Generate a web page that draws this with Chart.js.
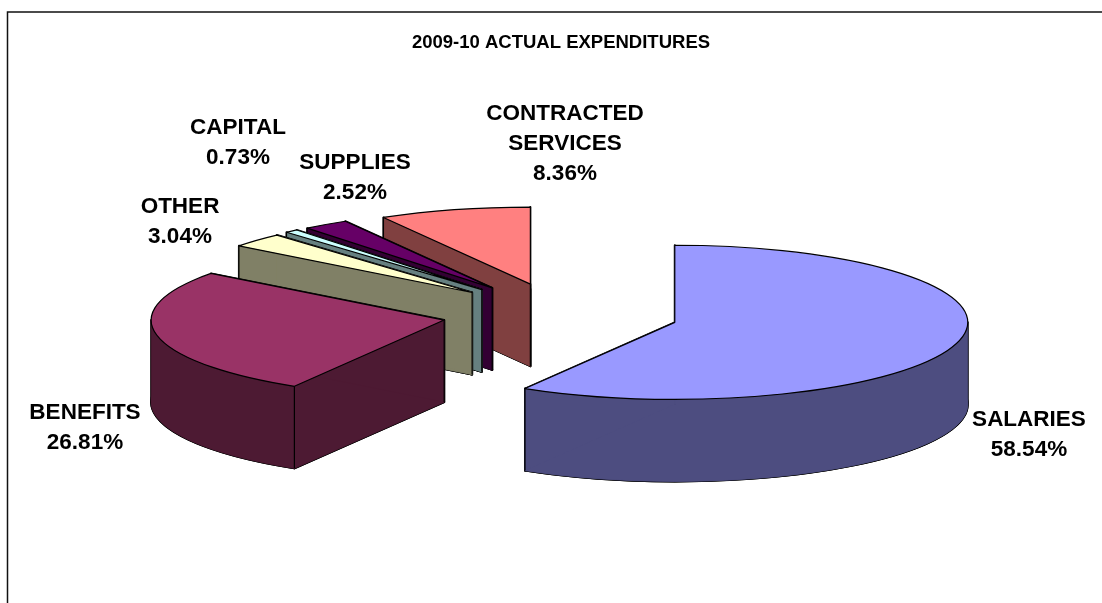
<!DOCTYPE html>
<html>
<head>
<meta charset="utf-8">
<title>2009-10 Actual Expenditures</title>
<script src="https://cdn.jsdelivr.net/npm/chart.js@4/dist/chart.umd.js"></script>
<style>
    html, body { margin: 0; padding: 0; background: #fff; overflow: hidden; }
    canvas { display: block; }
</style>
</head>
<body>
<canvas id="expenditures" width="1102" height="603"></canvas>
<script>
const chartTitle = "2009-10 ACTUAL EXPENDITURES";
const categories = ["SALARIES", "BENEFITS", "OTHER", "CAPITAL", "SUPPLIES", "CONTRACTED\nSERVICES"];
const percents = [58.54, 26.81, 3.04, 0.73, 2.52, 8.36];
const topColors = ["#9999ff", "#993366", "#ffffcc", "#ccffff", "#660066", "#ff8080"];
const wallColors = ["#4d4d80", "#4d1a33", "#808066", "#668080", "#330033", "#804040"];

// Pie shape: radius, how flat it is seen, thickness
const RADIUS = 293;
const TILT = 0.263;
const DEPTH = 82;
// How far each slice is pulled out of the center
const explodeBy = [118, 119, 121, 122, 121, 118];

// Hand placed label spots, same order as the categories (center x, first line y)
const labelSpots = [[1029, 420], [85, 413], [180, 207], [238, 128], [355, 163], [565, 114]];
const LINE_STEP = 30;

function sliceGeometry(arc, explode) {
    const { x, y, startAngle, endAngle } = arc.getProps(["x", "y", "startAngle", "endAngle"], true);
    const mid = (startAngle + endAngle) / 2;
    return {
        x: x + Math.cos(mid) * explode,
        y: y + Math.sin(mid) * explode * TILT,
        start: startAngle,
        end: endAngle
    };
}

function rimPoint(s, angle) {
    return [s.x + Math.cos(angle) * RADIUS, s.y + Math.sin(angle) * RADIUS * TILT];
}

// Flat sector, dy pushes it down to the underside
function sectorPath(ctx, s, dy) {
    ctx.beginPath();
    ctx.moveTo(s.x, s.y + dy);
    ctx.ellipse(s.x, s.y + dy, RADIUS, RADIUS * TILT, 0, s.start, s.end);
    ctx.closePath();
}

// Curved outer wall, only the front half of the rim can be seen (0 to PI on the canvas)
function rimWallPath(ctx, s) {
    const from = Math.max(s.start, 0);
    const to = Math.min(s.end, Math.PI);
    ctx.beginPath();
    if (from >= to) return;
    ctx.ellipse(s.x, s.y, RADIUS, RADIUS * TILT, 0, from, to);
    ctx.ellipse(s.x, s.y + DEPTH, RADIUS, RADIUS * TILT, 0, to, from, true);
    ctx.closePath();
}

// Flat cut wall from the slice's point out to the rim
function cutWallPath(ctx, s, angle) {
    const p = rimPoint(s, angle);
    ctx.beginPath();
    ctx.moveTo(s.x, s.y);
    ctx.lineTo(p[0], p[1]);
    ctx.lineTo(p[0], p[1] + DEPTH);
    ctx.lineTo(s.x, s.y + DEPTH);
    ctx.closePath();
}

function verticalEdge(ctx, px, py) {
    ctx.beginPath();
    ctx.moveTo(px, py);
    ctx.lineTo(px, py + DEPTH);
    ctx.stroke();
}

// Replaces the flat pie drawing with the extruded one
const extrudedPie = {
    id: "extrudedPie",
    beforeDatasetsDraw(chart) {
        const ctx = chart.ctx;
        const arcs = chart.getDatasetMeta(0).data;
        ctx.save();
        ctx.lineJoin = "round";

        // back slices first, the list runs clockwise from the top so go backwards
        for (let i = arcs.length - 1; i >= 0; i--) {
            const s = sliceGeometry(arcs[i], explodeBy[i]);
            const body = [
                () => sectorPath(ctx, s, DEPTH),
                () => rimWallPath(ctx, s),
                () => cutWallPath(ctx, s, s.start),
                () => cutWallPath(ctx, s, s.end)
            ];

            // black outline of the body first, wall colour over it leaves the silhouette
            ctx.strokeStyle = "#000";
            ctx.lineWidth = 2;
            body.forEach((path) => {
                path();
                ctx.stroke();
            });
            ctx.fillStyle = wallColors[i];
            ctx.strokeStyle = wallColors[i];
            ctx.lineWidth = 0.6;
            body.forEach((path) => {
                path();
                ctx.fill();
                ctx.stroke();
            });

            // corners that face the viewer
            ctx.strokeStyle = "#000";
            ctx.lineWidth = 1.2;
            if (s.end - s.start < Math.PI) verticalEdge(ctx, s.x, s.y);
            if (Math.cos(s.start) < -1e-6 || Math.sin(s.start) > 0) {
                const p = rimPoint(s, s.start);
                verticalEdge(ctx, p[0], p[1]);
            }
            if (Math.cos(s.end) > 1e-6 || Math.sin(s.end) > 0) {
                const p = rimPoint(s, s.end);
                verticalEdge(ctx, p[0], p[1]);
            }

            // top face
            sectorPath(ctx, s, 0);
            ctx.fillStyle = topColors[i];
            ctx.fill();
            ctx.stroke();
        }
        ctx.restore();
        return false;
    }
};

const sliceLabels = {
    id: "sliceLabels",
    afterDraw(chart) {
        const ctx = chart.ctx;
        ctx.save();
        ctx.font = "bold 22.5px 'Liberation Sans', Arial, sans-serif";
        ctx.fillStyle = "#000";
        ctx.textAlign = "center";
        ctx.textBaseline = "middle";
        categories.forEach((name, i) => {
            const lines = name.split("\n");
            lines.push(percents[i].toFixed(2) + "%");
            lines.forEach((line, n) => {
                ctx.fillText(line, labelSpots[i][0], labelSpots[i][1] + n * LINE_STEP);
            });
        });
        ctx.restore();
    }
};

// Frame: top and left rules only, it runs off the page on the other sides
const frameLines = {
    id: "frameLines",
    beforeDraw(chart) {
        const ctx = chart.ctx;
        ctx.save();
        ctx.fillStyle = "#fff";
        ctx.fillRect(0, 0, chart.width, chart.height);
        ctx.strokeStyle = "#111";
        ctx.lineWidth = 1.5;
        ctx.beginPath();
        ctx.moveTo(7.5, chart.height);
        ctx.lineTo(7.5, 12);
        ctx.lineTo(chart.width, 12);
        ctx.stroke();
        ctx.restore();
    }
};

new Chart(document.getElementById("expenditures"), {
    type: "pie",
    data: {
        labels: categories,
        datasets: [{
            data: percents,
            backgroundColor: topColors,
            borderWidth: 0,
            clip: false
        }]
    },
    options: {
        responsive: false,
        animation: false,
        radius: RADIUS,
        layout: { padding: { left: 20, bottom: 39 } },
        plugins: {
            legend: { display: false },
            tooltip: { enabled: false },
            title: {
                display: true,
                text: chartTitle,
                color: "#000",
                font: { family: "'Liberation Sans', Arial, sans-serif", size: 18.5, weight: "bold" },
                padding: { top: 32, bottom: 10 }
            }
        }
    },
    plugins: [frameLines, extrudedPie, sliceLabels]
});
</script>
</body>
</html>
